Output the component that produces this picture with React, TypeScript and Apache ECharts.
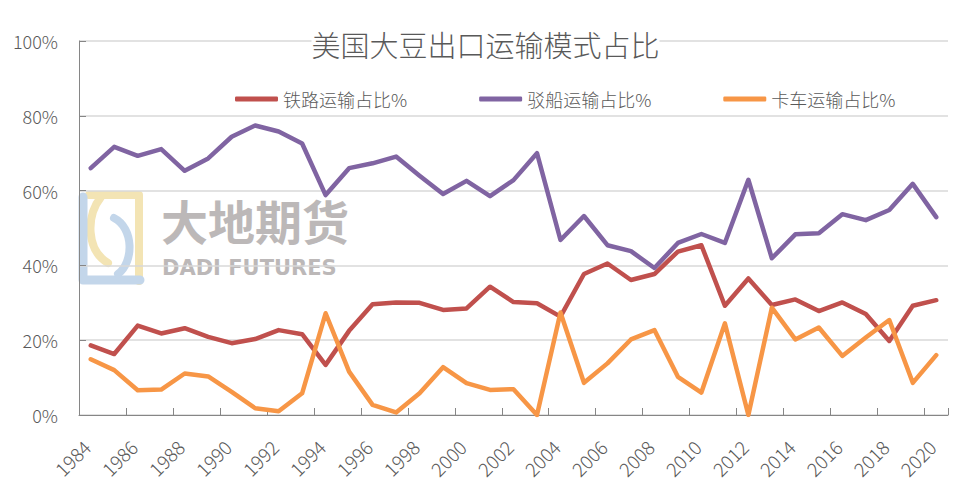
import React, { useEffect, useRef } from "react";
import * as echarts from "echarts";

const years = [
  "1984", "1985", "1986", "1987", "1988", "1989", "1990", "1991", "1992", "1993",
  "1994", "1995", "1996", "1997", "1998", "1999", "2000", "2001", "2002", "2003",
  "2004", "2005", "2006", "2007", "2008", "2009", "2010", "2011", "2012", "2013",
  "2014", "2015", "2016", "2017", "2018", "2019", "2020",
];

const railShare = [
  18.6, 16.3, 23.9, 21.8, 23.2, 20.9, 19.2, 20.3, 22.7, 21.6,
  13.4, 22.5, 29.6, 30.1, 30.0, 28.1, 28.5, 34.3, 30.2, 29.9,
  26.3, 37.7, 40.5, 36.1, 37.7, 43.7, 45.4, 29.2, 36.5, 29.4,
  30.9, 27.8, 30.1, 27.0, 19.8, 29.2, 30.7,
];

const bargeShare = [
  66.0, 71.7, 69.3, 71.1, 65.3, 68.6, 74.4, 77.4, 75.8, 72.6,
  58.8, 66.0, 67.3, 69.1, 64.0, 59.1, 62.6, 58.5, 62.8, 70.0,
  46.8, 53.2, 45.4, 43.8, 39.3, 46.0, 48.4, 46.0, 62.9, 41.9,
  48.3, 48.6, 53.7, 52.1, 54.8, 61.8, 52.9,
];

const truckShare = [
  14.9, 12.0, 6.6, 6.8, 11.1, 10.3, 6.2, 1.8, 1.0, 5.8,
  27.2, 11.6, 2.7, 0.7, 5.8, 12.8, 8.5, 6.7, 6.9, 0,
  27.4, 8.6, 13.8, 20.2, 22.7, 10.2, 6.0, 24.5, 0, 28.7,
  20.2, 23.4, 15.8, 20.7, 25.4, 8.6, 16.0,
];

const seriesNames = ["铁路运输占比%", "驳船运输占比%", "卡车运输占比%"];
const titleText = "美国大豆出口运输模式占比";

const FONT = "'Noto Sans CJK SC', 'Noto Sans', sans-serif";
const TEXT = "#595959";
const LOGO_YELLOW = "#f3e4b4";
const LOGO_BLUE = "#c3d6ea";
const MARK_GREY = "#bcb8b8";

export default function App() {
  const ref = useRef<HTMLDivElement>(null);

  useEffect(() => {
    document.body.style.margin = "0";
    if (!ref.current) return;
    const chart = echarts.init(ref.current, null, { renderer: "svg" });
    const lineSeries = (name: string, data: number[], color: string) => ({
      name,
      type: "line",
      data,
      symbol: "none",
      showSymbol: false,
      z: 3,
      lineStyle: { color, width: 4.5, cap: "round", join: "round" },
      itemStyle: { color },
    });
    chart.setOption({
      animation: false,
      backgroundColor: "#ffffff",
      textStyle: { fontFamily: FONT },
      title: {
        text: titleText,
        left: "center",
        top: 27,
        padding: [2, 0, 2, 0],
        backgroundColor: "#ffffff",
        textStyle: { fontFamily: FONT, fontSize: 29, fontWeight: 300, color: TEXT },
        z: 5,
      },
      legend: {
        left: 230,
        top: 85,
        itemWidth: 43,
        itemHeight: 5,
        itemGap: 72,
        icon: "roundRect",
        data: seriesNames.map((n) => ({ name: n })),
        textStyle: { fontFamily: FONT, fontSize: 18, fontWeight: 300, color: TEXT },
      },
      grid: { left: 79, right: 23, top: 41, bottom: 76, containLabel: false },
      xAxis: {
        type: "category",
        data: years,
        boundaryGap: true,
        axisLine: { lineStyle: { color: "#868686", width: 1 } },
        axisTick: { show: true, inside: true, length: 7, interval: 1, lineStyle: { color: "#868686" } },
        axisLabel: {
          interval: 1,
          rotate: 45,
          margin: 24,
          padding: [0, 6, 0, 0],
          fontSize: 19,
          fontFamily: FONT,
          fontWeight: 300,
          color: TEXT,
        },
        splitLine: { show: false },
      },
      yAxis: {
        type: "value",
        min: 0,
        max: 100,
        interval: 20,
        axisLine: { show: true, lineStyle: { color: "#868686", width: 1 } },
        axisTick: { show: true, inside: true, length: 7, lineStyle: { color: "#868686" } },
        axisLabel: {
          formatter: "{value}%",
          margin: 21,
          fontSize: 18,
          fontFamily: FONT,
          fontWeight: 300,
          color: TEXT,
        },
        splitLine: { lineStyle: { color: "#d9d9d9", width: 1.5 } },
      },
      graphic: [
        {
          type: "group",
          z: -10,
          silent: true,
          children: [
            {
              type: "polyline",
              shape: { points: [[89, 195], [139, 195], [139, 281]] },
              style: { stroke: LOGO_YELLOW, lineWidth: 8, fill: "none", lineJoin: "round", lineCap: "round" },
              z: -10,
            },
            {
              type: "bezierCurve",
              shape: { x1: 101, y1: 197, cpx1: 86, cpy1: 216, cpx2: 86, cpy2: 250, x2: 108, y2: 263 },
              style: { stroke: LOGO_YELLOW, lineWidth: 8, fill: "none", lineCap: "round" },
              z: -10,
            },
            {
              type: "polyline",
              shape: { points: [[83, 197], [83, 280], [140, 280]] },
              style: { stroke: LOGO_BLUE, lineWidth: 9, fill: "none", lineJoin: "round", lineCap: "round" },
              z: -9,
            },
            {
              type: "bezierCurve",
              shape: { x1: 114, y1: 218, cpx1: 134, cpy1: 228, cpx2: 134, cpy2: 262, x2: 118, y2: 274 },
              style: { stroke: LOGO_BLUE, lineWidth: 8, fill: "none", lineCap: "round" },
              z: -9,
            },
            {
              type: "text",
              x: 161,
              y: 196,
              z: -10,
              style: {
                text: "大地期货",
                font: `bold 47px ${FONT}`,
                fill: MARK_GREY,
                textVerticalAlign: "top",
              },
            },
            {
              type: "text",
              x: 162,
              y: 257,
              z: -10,
              style: {
                text: "DADI FUTURES",
                font: "bold 21px 'DejaVu Sans', sans-serif",
                fill: MARK_GREY,
                textVerticalAlign: "top",
              },
            },
          ],
        },
      ],
      series: [
        lineSeries(seriesNames[0], railShare, "#c0504d"),
        lineSeries(seriesNames[1], bargeShare, "#8064a2"),
        lineSeries(seriesNames[2], truckShare, "#f79646"),
      ],
    });
    return () => chart.dispose();
  }, []);

  return <div ref={ref} style={{ width: 971, height: 491 }} />;
}
